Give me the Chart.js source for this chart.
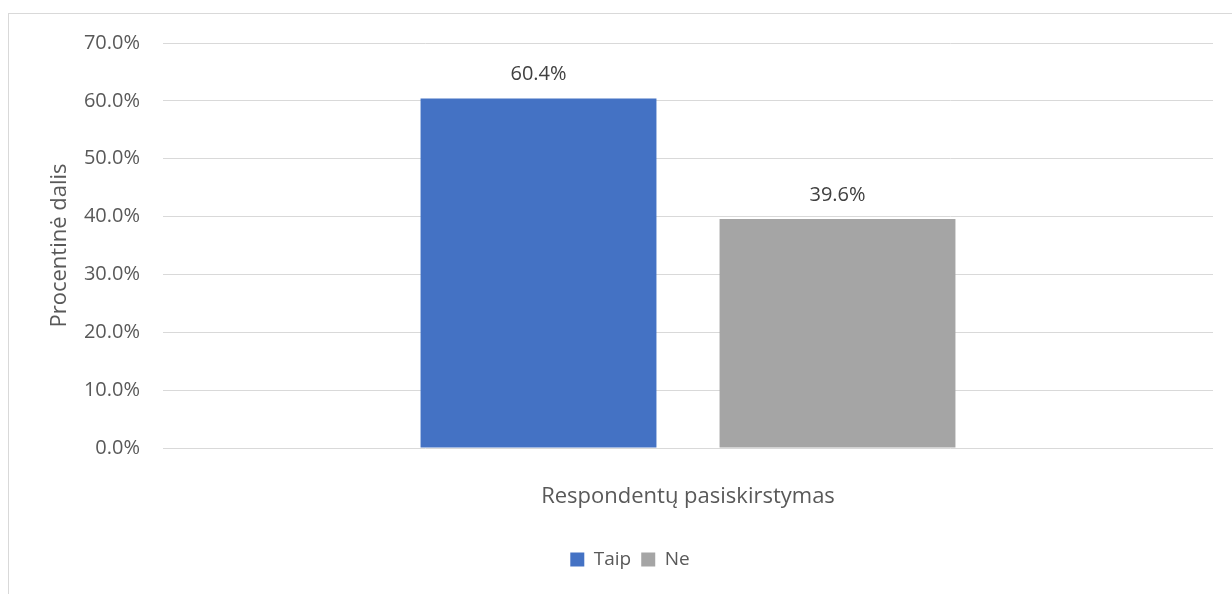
<!DOCTYPE html>
<html>
<head>
<meta charset="utf-8">
<script src="https://cdn.jsdelivr.net/npm/chart.js@4"></script>
<style>
  html, body { margin: 0; padding: 0; background: #fff; }
  #wrap { width: 1232px; height: 594px; }
</style>
</head>
<body>
<div id="wrap"><canvas id="myChart" width="1232" height="594"></canvas></div>
<script>
const categories = ["Respondentų pasiskirstymas"];
const seriesNames = ["Taip", "Ne"];
const taipValues = [60.4];
const neValues = [39.6];
const yTicks = [0, 10, 20, 30, 40, 50, 60, 70];

const FONT = "'Open Sans', 'DejaVu Sans', sans-serif";
const TEXT = "#595959";

// border of the chart box (only top and left show in the picture)
const frame = {
  id: "frame",
  beforeDraw(chart) {
    const c = chart.ctx;
    c.save();
    c.fillStyle = "#fff";
    c.fillRect(0, 0, chart.width, chart.height);
    c.strokeStyle = "#d9d9d9";
    c.lineWidth = 1;
    c.strokeRect(8.5, 13.5, 1400, 800);
    c.restore();
  }
};

// value labels above the bars
const barLabels = {
  id: "barLabels",
  afterDatasetsDraw(chart) {
    const c = chart.ctx;
    c.save();
    c.font = "20px " + FONT;
    c.fillStyle = "#404040";
    c.textAlign = "center";
    c.textBaseline = "middle";
    chart.data.datasets.forEach(function (ds, i) {
      chart.getDatasetMeta(i).data.forEach(function (bar, j) {
        c.fillText(ds.data[j].toFixed(1) + "%", bar.x, bar.y - 24);
      });
    });
    c.restore();
  }
};

var ctx = document.getElementById("myChart").getContext("2d");
var myChart = new Chart(ctx, {
  type: "bar",
  data: {
    labels: categories,
    datasets: [
      {
        label: seriesNames[0],
        data: taipValues,
        backgroundColor: "#4472C4",
        categoryPercentage: 0.5695,
        barPercentage: 0.789,
      },
      {
        label: seriesNames[1],
        data: neValues,
        backgroundColor: "#A5A5A5",
        categoryPercentage: 0.5695,
        barPercentage: 0.789,
      },
    ],
  },
  options: {
    responsive: false,
    animation: false,
    layout: { padding: { left: 47, right: 19, top: 43, bottom: 15 } },
    plugins: {
      legend: {
        position: "bottom",
        labels: {
          boxWidth: 14,
          boxHeight: 14,
          padding: 10,
          color: TEXT,
          font: { family: FONT, size: 19 },
        },
      },
      tooltip: { enabled: false },
    },
    scales: {
      x: {
        grid: { display: false },
        border: { display: false },
        ticks: {
          color: TEXT,
          padding: 28,
          font: { family: FONT, size: 22 },
        },
        afterFit(scale) { scale.height = 92; },
      },
      y: {
        min: 0,
        max: 70,
        afterBuildTicks(scale) {
          scale.ticks = yTicks.map(function (v) { return { value: v }; });
        },
        grid: { color: "#d9d9d9", drawTicks: false },
        border: { display: false },
        ticks: {
          color: TEXT,
          padding: 23,
          font: { family: FONT, size: 20 },
          callback: function (v) { return v.toFixed(1) + "%"; },
        },
        title: {
          display: true,
          text: "Procentinė dalis",
          color: TEXT,
          padding: { top: 0, bottom: 0 },
          font: { family: FONT, size: 22 },
        },
        afterFit(scale) { scale.width = 116; },
      },
    },
  },
  plugins: [frame, barLabels],
});
</script>
</body>
</html>
